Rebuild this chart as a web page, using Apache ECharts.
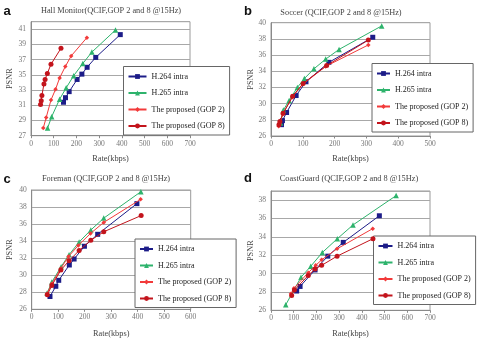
<!DOCTYPE html>
<html>
<head>
<meta charset="utf-8">
<script src="https://cdn.jsdelivr.net/npm/echarts@6/dist/echarts.min.js"></script>
<style>
  html, body { margin: 0; padding: 0; background: #fff; }
  #chart { width: 482px; height: 343px; }
</style>
</head>
<body>
<div id="chart"></div>
<script>
// rate (kbps) / PSNR (dB) pairs
const hallH264 = [[143, 31.4], [152, 32.0], [168, 32.8], [203, 34.4], [224, 35.1], [247, 36.0], [285, 37.3], [393, 40.3]]
const hallH265 = [[73, 28.0], [91, 29.5], [126, 31.8], [155, 33.3], [188, 34.9], [228, 36.5], [268, 38.0], [372, 40.9]]
const hallGop2 = [[54, 28.0], [67, 29.4], [88, 31.7], [108, 33.1], [126, 34.6], [151, 36.1], [177, 37.5], [246, 39.9]]
const hallGop8 = [[42, 31.1], [45, 31.6], [48, 32.3], [57, 33.8], [62, 34.4], [72, 35.2], [88, 36.4], [132, 38.5]]

const soccerH264 = [[33, 27.4], [36, 27.9], [49, 28.9], [79, 31.0], [110, 32.7], [182, 35.1], [320, 38.2]]
const soccerH265 = [[30, 27.6], [39, 29.2], [57, 30.4], [83, 32.0], [105, 33.1], [135, 34.3], [172, 35.5], [214, 36.7], [348, 39.6]]
const soccerGop2 = [[24, 27.2], [27, 27.6], [37, 28.7], [67, 30.8], [100, 32.4], [172, 34.6], [306, 37.25]]
const soccerGop8 = [[25, 27.4], [28, 27.8], [38, 28.8], [68, 30.9], [101, 32.5], [175, 34.7], [306, 37.85]]

const foremanH264 = [[69, 27.5], [91, 28.7], [102, 29.4], [142, 31.2], [160, 31.9], [199, 33.4], [249, 34.8], [397, 38.4]]
const foremanH265 = [[58, 27.9], [76, 29.2], [111, 31.0], [141, 32.4], [179, 33.9], [223, 35.3], [272, 36.7], [412, 39.8]]
const foremanGop2 = [[57, 27.8], [76, 29.0], [110, 30.8], [139, 32.2], [176, 33.5], [222, 34.9], [272, 36.2], [411, 38.9]]
const foremanGop8 = [[59, 27.7], [76, 28.8], [110, 30.6], [141, 31.7], [179, 32.9], [223, 34.1], [272, 35.1], [413, 37.0]]

const coastH264 = [[113, 28.1], [128, 28.6], [194, 30.4], [250, 31.9], [318, 33.4], [477, 36.3]]
const coastH265 = [[65, 26.6], [132, 29.6], [175, 30.8], [226, 32.3], [292, 33.8], [361, 35.3], [551, 38.5]]
const coastGop2 = [[88, 27.8], [101, 28.4], [164, 30.1], [197, 30.9], [223, 31.5], [291, 32.7], [448, 34.9]]
const coastGop8 = [[91, 27.6], [103, 28.2], [164, 29.8], [194, 30.5], [223, 30.9], [291, 31.9], [449, 33.8]]

const seriesNames = ['H.264 intra', 'H.265 intra', 'The proposed (GOP 2)', 'The proposed (GOP 8)']
const panelTitles = [
  'Hall Monitor(QCIF,GOP 2 and 8 @15Hz)',
  'Soccer (QCIF,GOP 2 and 8 @15Hz)',
  'Foreman (QCIF,GOP 2 and 8 @15Hz)',
  'CoastGuard (QCIF,GOP 2 and 8 @15Hz)'
]
const panelLetters = ['a', 'b', 'c', 'd']
const xMax = [700, 500, 600, 700]
const yMin = [27, 26, 26, 26]
const yMax = [42, 40, 40, 39]

const panelData = [
  [hallH264, hallH265, hallGop2, hallGop8],
  [soccerH264, soccerH265, soccerGop2, soccerGop8],
  [foremanH264, foremanH265, foremanGop2, foremanGop8],
  [coastH264, coastH265, coastGop2, coastGop8]
]

const SERIF = '"Liberation Serif", "DejaVu Serif", serif'
const colors = ['#1c1c88', '#2eb36c', '#f23a3a', '#c3141c']
const symbols = ['rect', 'triangle', 'diamond', 'circle']
const symbolSizes = [5, 5.5, 4.5, 5]

// layout of each panel, in pixels
const grids = [
  { left: 31, right: 292, top: 21.7, bottom: 207.3 },
  { left: 271, right: 52, top: 22.7, bottom: 207 },
  { left: 31.7, right: 291.3, top: 190, bottom: 33.7 },
  { left: 271, right: 52, top: 191, bottom: 32.7 }
]
const legendPos = [
  { left: 123.5, top: 66.5 },
  { left: 372, top: 63.5 },
  { left: 135, top: 239 },
  { left: 373.5, top: 236 }
]
const legendIconW = [18, 13, 13, 14]
const titlePos = [[111, 11], [341, 13], [106, 179], [349, 179]]
const letterPos = [[7, 11], [248, 11], [7, 179], [248, 178]]
const yNameGap = [17, 16, 18, 16.5]
const xNameGap = [19, 19, 20.5, 19.5]

const chart = echarts.init(document.getElementById('chart'), null, { renderer: 'canvas' })

const option = {
  backgroundColor: '#fff',
  animation: false,
  grid: grids.map(g => Object.assign({
    show: true,
    borderColor: '#9a9a9a',
    borderWidth: 1,
    backgroundColor: 'transparent',
    containLabel: false
  }, g)),
  xAxis: xMax.map((m, i) => ({
    type: 'value',
    gridIndex: i,
    min: 0,
    max: m,
    interval: 100,
    name: 'Rate(kbps)',
    nameLocation: 'middle',
    nameGap: xNameGap[i],
    nameTextStyle: { fontFamily: SERIF, fontSize: 8.3, color: '#444' },
    axisLine: { show: true, lineStyle: { color: '#8a8a8a' } },
    axisTick: { show: true, length: 2.5, lineStyle: { color: '#8a8a8a' } },
    axisLabel: { fontFamily: SERIF, fontSize: 7.5, color: '#777', margin: 4 },
    splitLine: { show: false }
  })),
  yAxis: yMin.map((m, i) => ({
    type: 'value',
    gridIndex: i,
    min: m,
    max: yMax[i],
    interval: 2,
    name: 'PSNR',
    nameLocation: 'middle',
    nameGap: yNameGap[i],
    nameTextStyle: { fontFamily: SERIF, fontSize: 8.3, color: '#444' },
    axisLine: { show: true, lineStyle: { color: '#8a8a8a' } },
    axisTick: { show: false },
    // the top edge is not on the 2-step tick sequence for a and d
    axisLabel: { fontFamily: SERIF, fontSize: 7.5, color: '#777', margin: 5, showMaxLabel: (yMax[i] - m) % 2 === 0 },
    splitLine: { show: true, lineStyle: { color: '#a8a8a8', width: 1 } }
  })),
  legend: legendPos.map((p, i) => ({
    orient: 'vertical',
    left: p.left,
    top: p.top,
    data: seriesNames,
    backgroundColor: '#fff',
    borderColor: '#666',
    borderWidth: 1,
    padding: [4, 5, 3, 4],
    itemGap: 4.5,
    itemWidth: legendIconW[i],
    itemHeight: 6,
    selectedMode: false,
    textStyle: { fontFamily: SERIF, fontSize: 8, color: '#222', lineHeight: 12 }
  })),
  graphic: [
    ...panelTitles.map((t, i) => ({
      type: 'text',
      x: titlePos[i][0],
      y: titlePos[i][1],
      style: { text: t, fontFamily: SERIF, fontSize: 8.3, fill: '#444', align: 'center', verticalAlign: 'middle' }
    })),
    ...panelLetters.map((l, i) => ({
      type: 'text',
      x: letterPos[i][0],
      y: letterPos[i][1],
      style: { text: l, fontFamily: '"Liberation Sans", Arial, sans-serif', fontWeight: 'bold', fontSize: 13, fill: '#111', align: 'center', verticalAlign: 'middle' }
    }))
  ],
  series: []
}

panelData.forEach((sets, p) => {
  sets.forEach((d, k) => {
    option.series.push({
      type: 'line',
      name: seriesNames[k],
      xAxisIndex: p,
      yAxisIndex: p,
      data: d,
      color: colors[k],
      symbol: symbols[k],
      symbolSize: symbolSizes[k],
      showAllSymbol: true,
      lineStyle: { width: 1, color: colors[k] },
      itemStyle: { color: colors[k] },
      z: 2 + k
    })
  })
})

chart.setOption(option)
</script>
</body>
</html>
